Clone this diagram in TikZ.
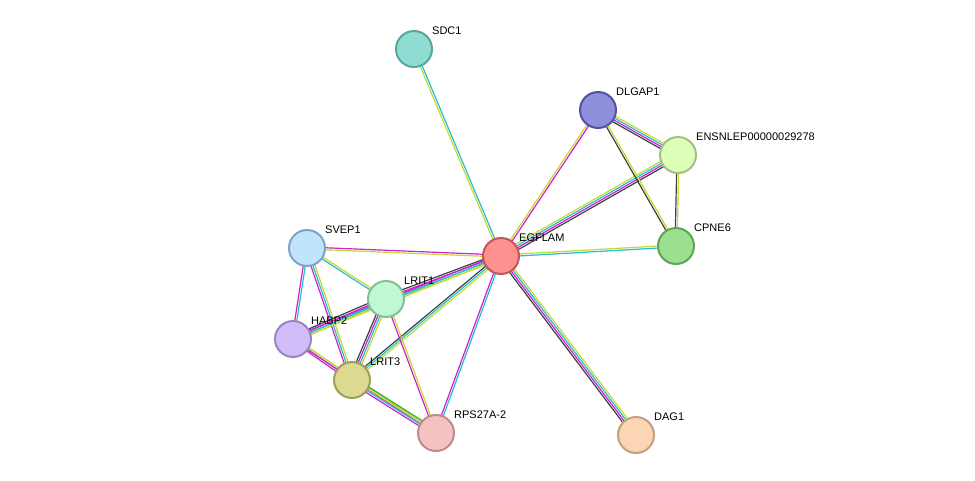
\documentclass[tikz,border=0pt]{standalone}
\usepackage{fontspec}
\setmainfont{Liberation Sans}
\usetikzlibrary{calc}
\definecolor{cy}{HTML}{20C0D0}
\definecolor{mg}{HTML}{D020D0}
\definecolor{yg}{HTML}{C8D830}
\definecolor{bk}{HTML}{404040}
\definecolor{gn}{HTML}{30B030}
\newcommand\sedge[4]{%
 \foreach \c [count=\i] in {#4} {%
  \pgfmathsetmacro\o{(\i-(#3+1)/2)*2.0}
  \draw[\c, line width=1.2pt] ($(#1)!\o pt!90:(#2)$) -- ($(#2)!\o pt!-90:(#1)$);
 }}
\tikzset{prot/.style={circle, minimum size=36pt, inner sep=0pt, line width=2pt},
 lab/.style={font=\fontsize{11}{12}\selectfont, anchor=south west, inner sep=0pt}}
\begin{document}
\begin{tikzpicture}[x=1pt,y=-1pt]
\useasboundingbox (0,0) rectangle (975,480);
\fill[white] (0,0) rectangle (975,480);
\coordinate (sdc) at (414,49);
\coordinate (dlg) at (598,110);
\coordinate (ens) at (678,155);
\coordinate (cpn) at (676,246);
\coordinate (egf) at (501,256);
\coordinate (svp) at (307,248);
\coordinate (lr1) at (386,299);
\coordinate (hab) at (293,339);
\coordinate (lr3) at (352,380);
\coordinate (rps) at (436,433);
\coordinate (dag) at (636,435);
\sedge{egf}{sdc}{2}{cy,yg}
\sedge{egf}{dlg}{2}{mg,yg}
\sedge{egf}{ens}{4}{bk,mg,cy,yg}
\sedge{egf}{cpn}{2}{cy,yg}
\sedge{egf}{svp}{2}{mg,yg}
\sedge{egf}{lr1}{4}{bk,mg,cy,yg}
\sedge{egf}{hab}{3}{mg,cy,yg}
\sedge{egf}{lr3}{3}{bk,cy,yg}
\sedge{egf}{rps}{2}{mg,cy}
\sedge{egf}{dag}{4}{bk,mg,cy,yg}
\sedge{dlg}{ens}{4}{bk,mg,cy,yg}
\sedge{dlg}{cpn}{2}{bk,yg}
\sedge{ens}{cpn}{2}{bk,yg}
\sedge{svp}{lr1}{2}{cy,yg}
\sedge{svp}{hab}{2}{mg,cy}
\sedge{svp}{lr3}{3}{mg,cy,yg}
\sedge{lr1}{hab}{4}{bk,mg,cy,yg}
\sedge{lr1}{lr3}{4}{bk,mg,cy,yg}
\sedge{lr1}{rps}{2}{mg,yg}
\sedge{hab}{lr3}{3}{mg,cy,yg}
\sedge{hab}{rps}{2}{mg,yg}
\sedge{lr3}{rps}{4}{mg,cy,yg,gn}
\node[prot, fill={rgb,255:red,143;green,220;blue,211}, draw={rgb,255:red,90;green,165;blue,156}] (nsdc) at (sdc) {};
\node[prot, fill={rgb,255:red,143;green,143;blue,219}, draw={rgb,255:red,83;green,83;blue,165}] (ndlg) at (dlg) {};
\node[prot, fill={rgb,255:red,221;green,255;blue,184}, draw={rgb,255:red,163;green,192;blue,133}] (nens) at (ens) {};
\node[prot, fill={rgb,255:red,155;green,223;blue,143}, draw={rgb,255:red,94;green,165;blue,87}] (ncpn) at (cpn) {};
\node[prot, fill={rgb,255:red,255;green,144;blue,144}, draw={rgb,255:red,192;green,88;blue,88}] (negf) at (egf) {};
\node[prot, fill={rgb,255:red,192;green,228;blue,251}, draw={rgb,255:red,127;green,165;blue,192}] (nsvp) at (svp) {};
\node[prot, fill={rgb,255:red,192;green,248;blue,212}, draw={rgb,255:red,130;green,192;blue,150}] (nlr1) at (lr1) {};
\node[prot, fill={rgb,255:red,210;green,189;blue,251}, draw={rgb,255:red,154;green,134;blue,192}] (nhab) at (hab) {};
\node[prot, fill={rgb,255:red,220;green,217;blue,144}, draw={rgb,255:red,160;green,160;blue,85}] (nlr3) at (lr3) {};
\node[prot, fill={rgb,255:red,245;green,194;blue,194}, draw={rgb,255:red,192;green,138;blue,138}] (nrps) at (rps) {};
\node[prot, fill={rgb,255:red,252;green,213;blue,181}, draw={rgb,255:red,192;green,160;blue,127}] (ndag) at (dag) {};
\node[lab] at ($(sdc)+(18,-14)$) {SDC1};
\node[lab] at ($(dlg)+(18,-14)$) {DLGAP1};
\node[lab] at ($(ens)+(18,-14)$) {ENSNLEP00000029278};
\node[lab] at ($(cpn)+(18,-14)$) {CPNE6};
\node[lab] at ($(egf)+(18,-14)$) {EGFLAM};
\node[lab] at ($(svp)+(18,-14)$) {SVEP1};
\node[lab] at ($(lr1)+(18,-14)$) {LRIT1};
\node[lab] at ($(hab)+(18,-14)$) {HABP2};
\node[lab] at ($(lr3)+(18,-14)$) {LRIT3};
\node[lab] at ($(rps)+(18,-14)$) {RPS27A-2};
\node[lab] at ($(dag)+(18,-14)$) {DAG1};
\end{tikzpicture}
\end{document}
